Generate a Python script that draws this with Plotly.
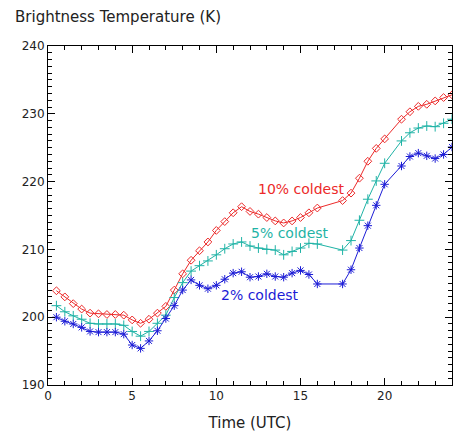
import plotly.graph_objects as go

# Half-hourly sample times (UTC); a few samples are missing in the record
time_10 = [0.5, 1.0, 1.5, 2.0, 2.5, 3.0, 3.5, 4.0, 4.5, 5.0, 5.5, 6.0, 6.5, 7.0, 7.5, 8.0,
           8.5, 9.0, 9.5, 10.0, 10.5, 11.0, 11.5, 12.0, 12.5, 13.0, 13.5, 14.0, 14.5, 15.0,
           15.5, 16.0, 17.5, 18.0, 18.5, 19.0, 19.5, 20.0, 21.0, 21.5, 22.0, 22.5, 23.0,
           23.5, 24.0]
time_5 = time_10
time_2 = time_10

# Brightness temperature (K) of the coldest pixel fractions
bt_10 = [203.9, 203.0, 202.0, 201.2, 200.6, 200.5, 200.4, 200.4, 200.3, 199.6, 199.1, 199.7,
         200.6, 201.6, 204.0, 206.4, 208.4, 209.8, 211.1, 212.8, 214.1, 215.4, 216.3, 215.6,
         215.2, 214.7, 214.2, 213.9, 214.2, 214.7, 215.4, 216.1, 217.2, 218.3, 220.5, 223.0,
         224.9, 226.3, 229.2, 230.3, 231.1, 231.4, 231.9, 232.4, 232.8]
bt_5 = [201.7, 200.8, 200.2, 199.7, 199.1, 199.0, 199.0, 199.0, 198.8, 197.9, 197.2, 197.9,
        199.1, 200.3, 202.9, 205.1, 206.8, 207.6, 208.3, 209.2, 210.1, 210.8, 211.1, 210.5,
        210.2, 210.0, 209.9, 209.2, 209.7, 210.2, 210.9, 210.8, 209.9, 211.3, 214.3, 217.4,
        220.1, 222.7, 226.0, 227.2, 227.9, 228.2, 228.1, 228.6, 229.2]
bt_2 = [200.0, 199.4, 199.0, 198.5, 197.9, 197.8, 197.8, 197.8, 197.5, 195.9, 195.4, 196.5,
        198.0, 199.8, 201.7, 204.0, 205.5, 204.7, 204.2, 204.7, 205.6, 206.5, 206.7, 205.9,
        206.0, 206.4, 206.0, 205.9, 206.5, 206.9, 206.3, 204.9, 204.9, 207.0, 210.2, 213.5,
        216.5, 219.6, 222.3, 223.7, 224.2, 223.8, 223.4, 224.0, 225.1]

labels = ["10% coldest", "5% coldest", "2% coldest"]
label_x = [15.05, 14.35, 12.6]
label_y = [218.9, 212.4, 203.3]

RED = "#ec2a2a"
CYAN = "#1fb3a6"
BLUE = "#1c1cd6"
INK = "#222222"

fig = go.Figure()
series = [
    (time_10, bt_10, RED, "diamond-open", 6),
    (time_5, bt_5, CYAN, "cross-thin-open", 7),
    (time_2, bt_2, BLUE, "asterisk-open", 7),
]
for t, v, c, sym, sz in series:
    fig.add_trace(go.Scatter(
        x=t, y=v, mode="lines+markers",
        line=dict(color=c, width=1),
        marker=dict(symbol=sym, size=sz, color=c, line=dict(color=c, width=1)),
        showlegend=False,
    ))

for txt, lx, ly, c in zip(labels, label_x, label_y, [RED, CYAN, BLUE]):
    fig.add_annotation(x=lx, y=ly, text=txt, showarrow=False,
                       font=dict(size=14, color=c))

fig.add_annotation(xref="paper", yref="paper", x=-0.087, y=1.086, xanchor="left",
                   yanchor="middle", text="Brightness Temperature (K)", showarrow=False,
                   font=dict(size=15, color=INK))

fig.update_layout(
    width=453, height=437, margin=dict(l=48, r=1, t=46, b=52),
    plot_bgcolor="white",
    font=dict(family="DejaVu Sans", color=INK),
    xaxis=dict(range=[0, 24], dtick=5, ticks="inside", ticklen=7, tickcolor="black",
               tickwidth=1, showline=True, linecolor="black", mirror="ticks",
               showgrid=False, zeroline=False,
               minor=dict(ticks="inside", ticklen=4, dtick=1, tickcolor="black"),
               tickfont=dict(size=12),
               title=dict(text="Time (UTC)", font=dict(size=15))),
    yaxis=dict(range=[190, 240], dtick=10, ticks="inside", ticklen=7, tickcolor="black",
               tickwidth=1, showline=True, linecolor="black", mirror="ticks",
               showgrid=False, zeroline=False,
               minor=dict(ticks="inside", ticklen=4, dtick=1, tickcolor="black"),
               tickfont=dict(size=12)),
)

fig.write_html("out.html")
